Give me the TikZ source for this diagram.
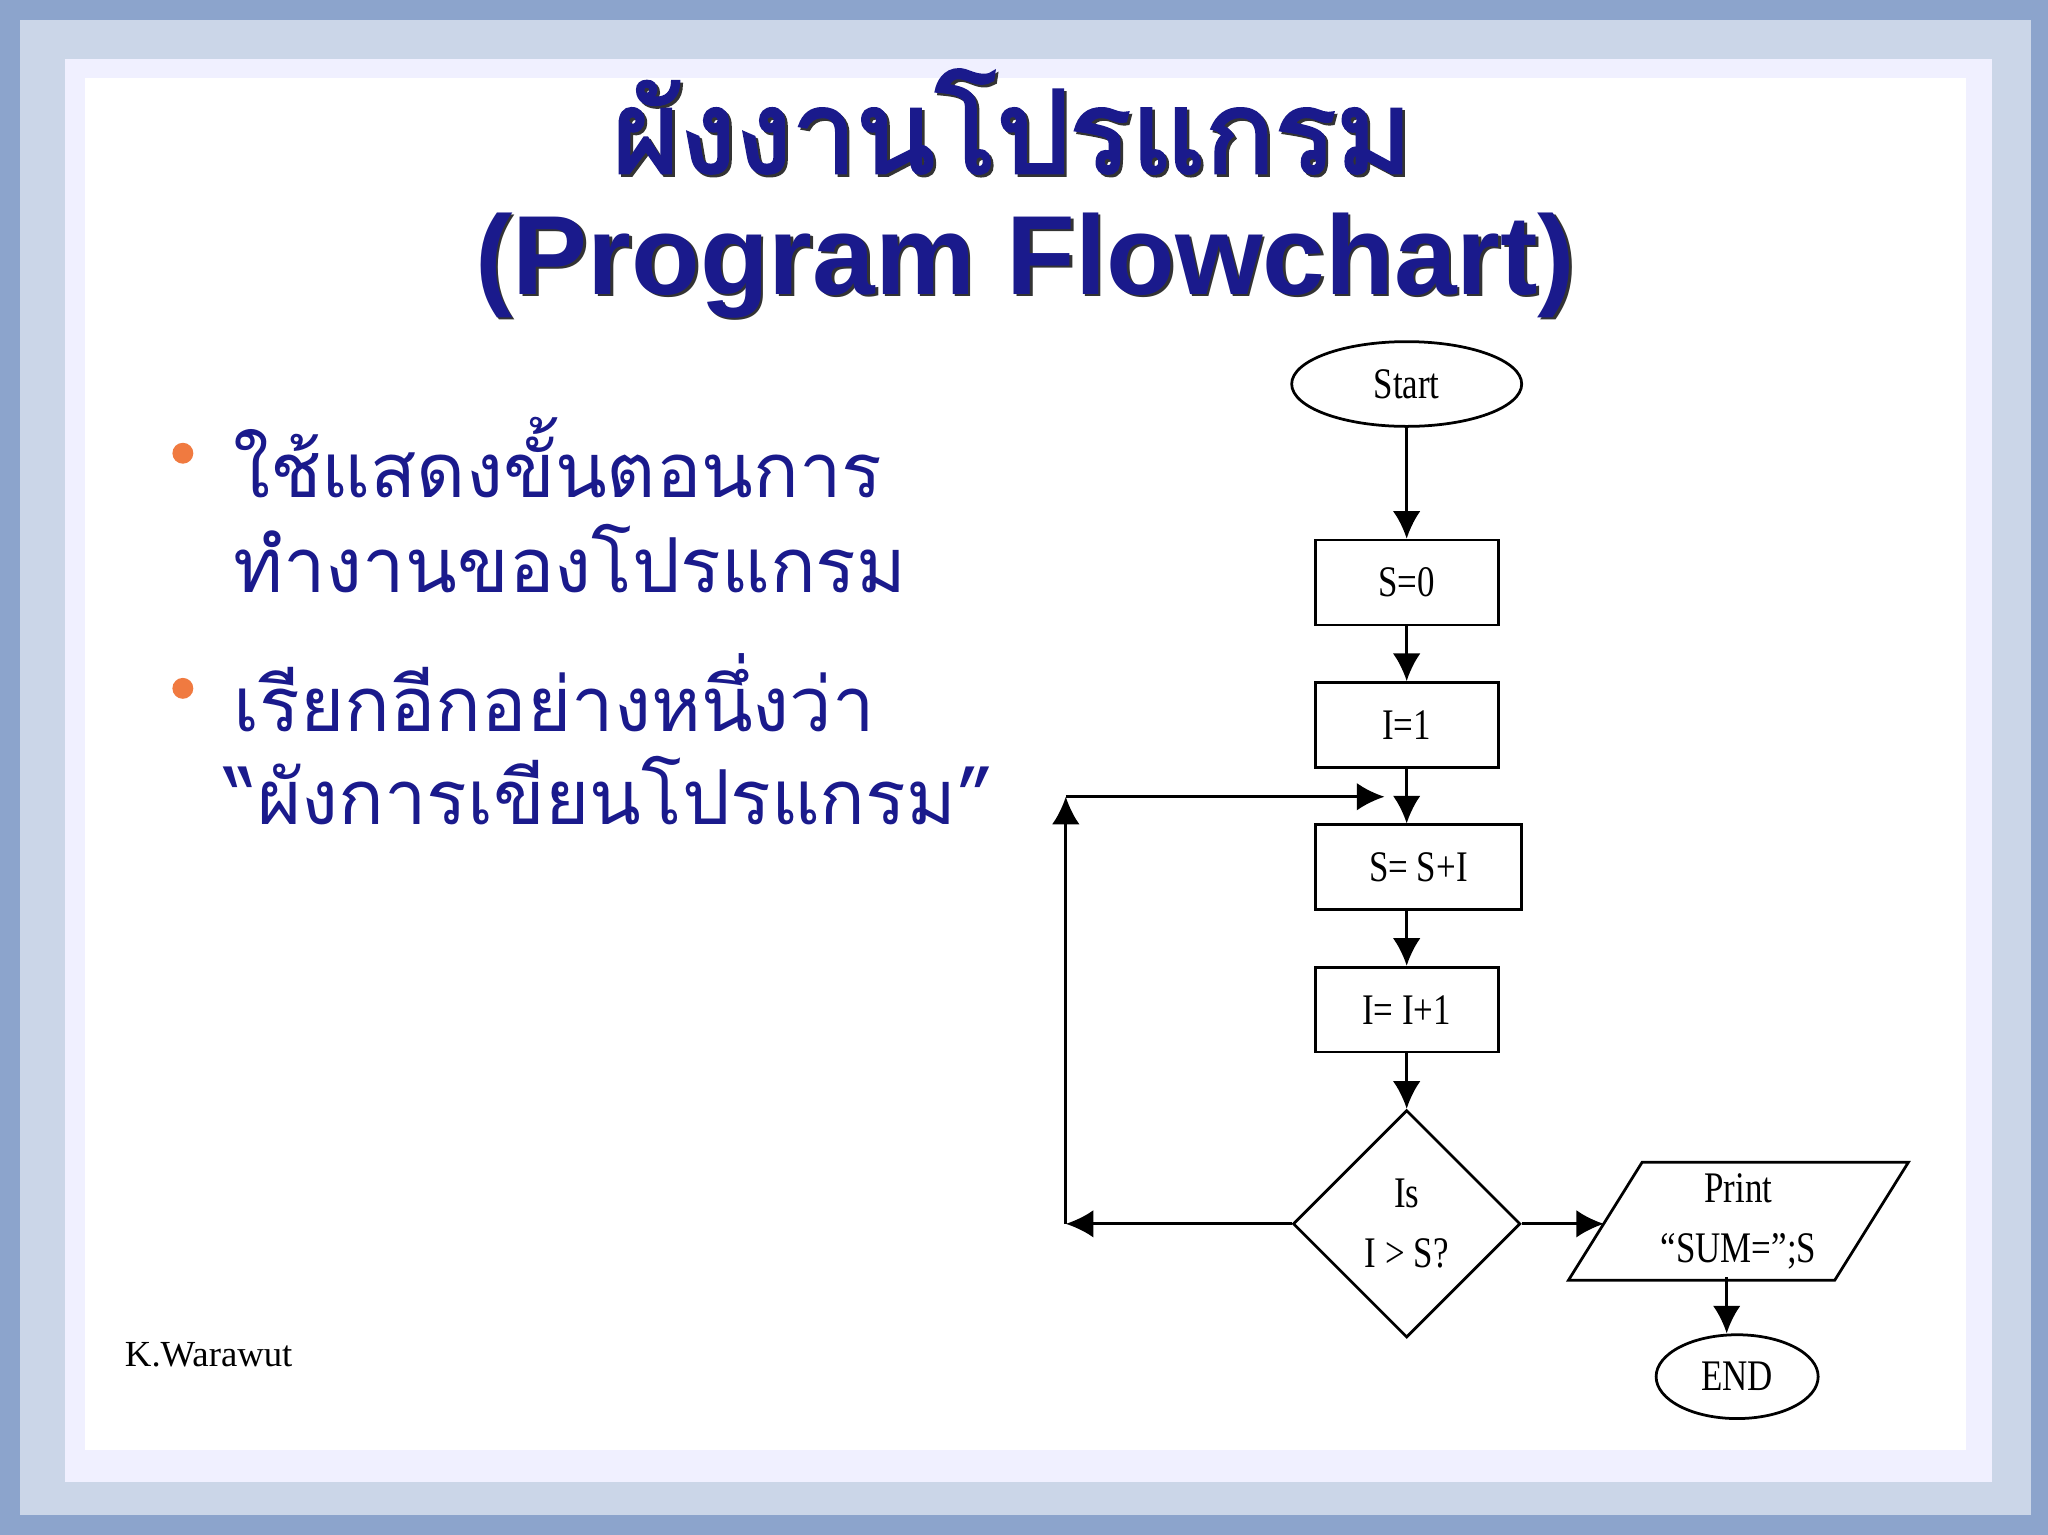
\documentclass[tikz,border=0pt]{standalone}
\usepackage{fontspec}
\setmainfont{Liberation Serif}
\newfontfamily\thaifont[Script=Thai]{Loma}
\newfontfamily\thaibold[Script=Thai,FakeBold=2.5]{Loma}
\newfontfamily\headfont{Liberation Sans}
\newfontfamily\fcfont[FakeStretch=0.8]{Liberation Serif}
\usetikzlibrary{shapes.geometric,arrows.meta}
\definecolor{navy}{HTML}{1A1A8C}
\definecolor{frame}{HTML}{8CA4CC}
\definecolor{orng}{HTML}{F07A40}
\begin{document}
\begin{tikzpicture}[x=0.01cm,y=-0.01cm,
  box/.style={draw,semithick,minimum width=1.40cm,minimum height=0.65cm,font=\fcfont\fontsize{9.5}{11}\selectfont,inner sep=0},
  arr/.style={semithick,-{Latex[length=6pt,width=6pt]}}]
\useasboundingbox (0,0) rectangle (1568,1175);
\fill[frame] (0,0) rectangle (1568,1175);
\fill[frame!45] (15,15) rectangle (1555,1160);
\fill[white!94!blue] (50,45) rectangle (1525,1135);
\fill[white] (65,60) rectangle (1505,1110);
% title
\node[text=black!80] (t1s) at (777,95) {\thaibold\fontsize{25}{30}\selectfont ผังงานโปรแกรม};
\node[text=navy] (t1) at (775,93) {\thaibold\fontsize{25}{30}\selectfont ผังงานโปรแกรม};
\node[text=black!80] (t2s) at (787,205) {\headfont\bfseries\fontsize{24.5}{30}\selectfont (Program Flowchart)};
\node[text=navy] (t2) at (785,203) {\headfont\bfseries\fontsize{24.5}{30}\selectfont (Program Flowchart)};
% bullets
\fill[orng] (140,347) circle (8);
\fill[orng] (140,527) circle (8);
\tikzset{bt/.style={anchor=west,text=navy,font=\thaifont\fontsize{16.5}{20}\selectfont,inner sep=0}}
\node[bt] (b1) at (178,350) {ใช้แสดงขั้นตอนการ};
\node[bt] (b2) at (178,428) {ทำงานของโปรแกรม};
\node[bt] (b3) at (178,530) {เรียกอีกอย่างหนึ่งว่า};
\node[bt] (b4) at (172,605) {“ผังการเขียนโปรแกรม”};
\node[anchor=west,font=\fontsize{8}{10}\selectfont,inner sep=0] (kw) at (95,1037) {K.Warawut};
% flowchart
\node[draw,semithick,ellipse,minimum width=1.76cm,minimum height=0.64cm,font=\fcfont\fontsize{9.5}{11}\selectfont] (start) at (1077,294) {Start};
\node[box] (s0) at (1077,446) {S=0};
\node[box] (i1) at (1077,555) {I=1};
\node[box,minimum width=1.58cm] (ss) at (1086,664) {S= S+I};
\node[box] (ii) at (1077,773) {I= I+1};
\node[draw,semithick,diamond,minimum width=1.74cm,minimum height=1.74cm,inner sep=0,align=center,font=\fcfont\fontsize{9.5}{13}\selectfont] (d) at (1077,937) {Is\\I > S?};
\node[draw,semithick,trapezium,trapezium left angle=58,trapezium right angle=122,minimum width=2.62cm,minimum height=0.86cm,inner sep=0,align=center,font=\fcfont\fontsize{9.5}{13}\selectfont] (pr) at (1331,935) {Print\\“SUM=”;S};
\node[draw,semithick,ellipse,minimum width=1.24cm,minimum height=0.64cm,font=\fcfont\fontsize{9.5}{11}\selectfont] (en) at (1330,1054) {END};
\draw[arr] (start) -- (s0);
\draw[arr] (s0) -- (i1);
\draw[arr] (i1) -- (i1.south|-ss.north);
\draw[arr] (ss.south-|ii.north) -- (ii);
\draw[arr] (ii) -- (d);
\coordinate (c1) at (816,937);
\coordinate (c2) at (816,610);
\coordinate (c3) at (1060,610);
\draw[arr] (d.west) -- (c1);
\draw[arr] (c1) -- (c2);
\draw[arr] (c2) -- (c3);
\draw[arr] (d.east) -- (1228,937);
\draw[arr] (1322,978) -- (en.north-|1322,0);
\end{tikzpicture}
\end{document}
